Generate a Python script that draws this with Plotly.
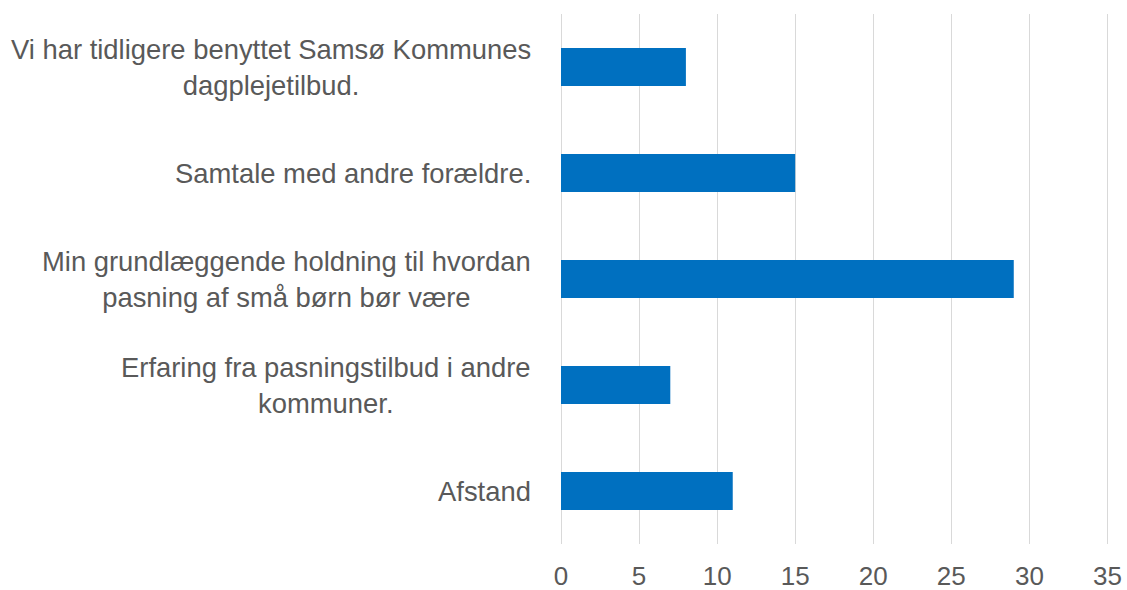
import plotly.graph_objects as go

categories = [
    "Vi har tidligere benyttet Samsø Kommunes<br>dagplejetilbud.",
    "Samtale med andre forældre.",
    "Min grundlæggende holdning til hvordan<br>pasning af små børn bør være",
    "Erfaring fra pasningstilbud i andre<br>kommuner.",
    "Afstand",
]
values = [8, 15, 29, 7, 11]
tick_vals = [0, 5, 10, 15, 20, 25, 30, 35]

FONT = "Liberation Sans, Arial"
TXT = "#595959"

fig = go.Figure(go.Bar(
    y=categories, x=values, orientation="h",
    marker=dict(color="#0070C0", line=dict(width=0)),
    width=0.36,
))

for c in categories:
    fig.add_annotation(
        x=0, xref="paper", y=c, yref="y", text=c, showarrow=False,
        xanchor="right", yanchor="middle", align="center", xshift=-28,
        font=dict(family=FONT, size=27.4, color=TXT),
    )

fig.update_layout(
    width=1127, height=590,
    margin=dict(l=561, r=18, t=14, b=46, autoexpand=False),
    paper_bgcolor="white", plot_bgcolor="white",
    showlegend=False,
    xaxis=dict(range=[0, 35.1], tickvals=tick_vals, showgrid=True,
               gridcolor="#D9D9D9", gridwidth=1, zeroline=True,
               zerolinecolor="#D9D9D9", zerolinewidth=1,
               showline=False, ticks="", ticklabelstandoff=14,
               ticklabeloverflow="allow",
               tickfont=dict(family=FONT, size=26, color=TXT)),
    yaxis=dict(categoryorder="array", categoryarray=categories[::-1],
               showticklabels=False, showgrid=False, zeroline=False,
               showline=False, ticks=""),
)

fig.write_html(
    "out.html",
    config={"displayModeBar": False},
    post_script="document.body.style.margin='0';document.body.style.overflow='hidden';",
)
